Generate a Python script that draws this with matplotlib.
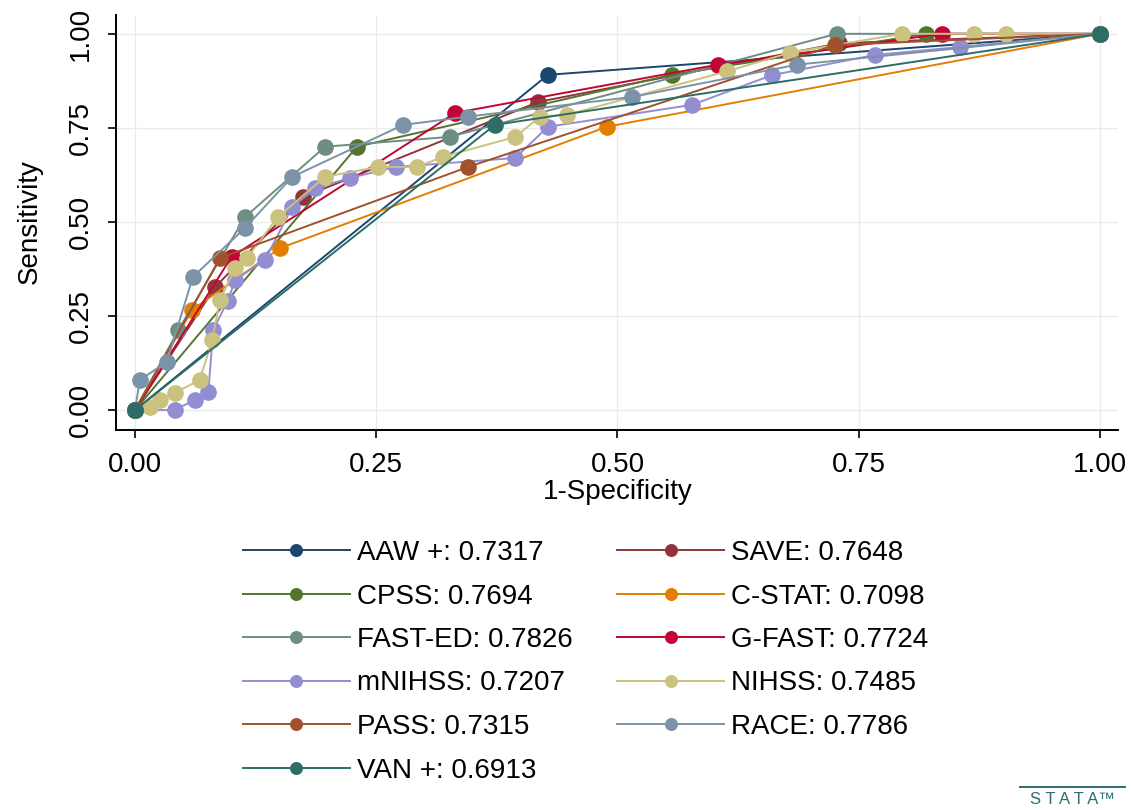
import matplotlib
matplotlib.use("Agg")
import matplotlib.pyplot as plt
from matplotlib.lines import Line2D

plt.rcParams['font.family'] = ['Liberation Sans', 'DejaVu Sans']

names = ["AAW +", "SAVE", "CPSS", "C-STAT", "FAST-ED", "G-FAST",
         "mNIHSS", "NIHSS", "PASS", "RACE", "VAN +"]
aucs = ["0.7317", "0.7648", "0.7694", "0.7098", "0.7826", "0.7724",
        "0.7207", "0.7485", "0.7315", "0.7786", "0.6913"]
colors = ["#1a476f", "#90353b", "#55752f", "#e37e00", "#6e8e84", "#c10534",
          "#938dd2", "#cac27e", "#a0522d", "#7b92a8", "#2d6d66"]

aaw_x = [0, 0.428, 1]
aaw_y = [0, 0.891, 1]
save_x = [0, 0.083, 0.174, 0.418, 0.73, 1]
save_y = [0, 0.327, 0.566, 0.819, 0.975, 1]
cpss_x = [0, 0.23, 0.556, 0.82, 1]
cpss_y = [0, 0.70, 0.891, 1.0, 1]
cstat_x = [0, 0.059, 0.15, 0.489, 1]
cstat_y = [0, 0.266, 0.43, 0.753, 1]
fasted_x = [0, 0.045, 0.114, 0.197, 0.326, 0.727, 1]
fasted_y = [0, 0.213, 0.513, 0.70, 0.726, 1.0, 1]
gfast_x = [0, 0.10, 0.332, 0.604, 0.836, 1]
gfast_y = [0, 0.407, 0.79, 0.918, 1.0, 1]
mnihss_x = [0, 0.041, 0.062, 0.076, 0.081, 0.096, 0.104, 0.135, 0.163, 0.187,
            0.223, 0.27, 0.394, 0.428, 0.577, 0.66, 0.767, 0.855, 1]
mnihss_y = [0, 0.0, 0.027, 0.048, 0.213, 0.29, 0.346, 0.40, 0.54, 0.59,
            0.617, 0.646, 0.67, 0.753, 0.811, 0.89, 0.944, 0.965, 1]
nihss_x = [0, 0.016, 0.026, 0.041, 0.067, 0.08, 0.088, 0.104, 0.116, 0.148,
           0.197, 0.252, 0.292, 0.319, 0.394, 0.42, 0.448, 0.613, 0.679,
           0.795, 0.869, 0.903, 1]
nihss_y = [0, 0.008, 0.027, 0.045, 0.08, 0.186, 0.293, 0.378, 0.404, 0.513,
           0.62, 0.646, 0.646, 0.673, 0.726, 0.78, 0.785, 0.90, 0.95,
           1.0, 1.0, 1.0, 1]
pass_x = [0, 0.088, 0.345, 0.725, 1]
pass_y = [0, 0.404, 0.646, 0.97, 1]
race_x = [0, 0.005, 0.033, 0.06, 0.114, 0.163, 0.278, 0.345, 0.515, 0.686, 1]
race_y = [0, 0.08, 0.128, 0.354, 0.484, 0.62, 0.758, 0.78, 0.832, 0.918, 1]
van_x = [0, 0.373, 1]
van_y = [0, 0.758, 1]

series_x = [aaw_x, save_x, cpss_x, cstat_x, fasted_x, gfast_x,
            mnihss_x, nihss_x, pass_x, race_x, van_x]
series_y = [aaw_y, save_y, cpss_y, cstat_y, fasted_y, gfast_y,
            mnihss_y, nihss_y, pass_y, race_y, van_y]

ticks = [0, 0.25, 0.5, 0.75, 1.0]
tick_labels = ["0.00", "0.25", "0.50", "0.75", "1.00"]

W, H = 1131, 810
fig = plt.figure(figsize=(W / 100, H / 100), dpi=100)
ax = fig.add_axes([116 / W, 1 - 430 / H, (1118 - 116) / W, (430 - 15) / H])

handles = []
for xs, ys, c, n, a in zip(series_x, series_y, colors, names, aucs):
    h, = ax.plot(xs, ys, color=c, lw=1.4, marker='o', markersize=12,
                 markeredgewidth=0, label=f"{n}: {a}")
    handles.append(h)

ax.set_xlim(-0.0197, 1.0187)
ax.set_ylim(-0.053, 1.05)
ax.set_xticks(ticks)
ax.set_xticklabels(tick_labels)
ax.set_yticks(ticks)
ax.set_yticklabels(tick_labels, rotation=90, va='center')
ax.grid(True, color='#ebebeb', lw=1.0)
ax.set_axisbelow(True)
for s in ['top', 'right']:
    ax.spines[s].set_visible(False)
for s in ['left', 'bottom']:
    ax.spines[s].set_linewidth(1.4)
ax.tick_params(axis='both', length=6, width=1.2, labelsize=20, pad=10,
               colors='black')

fig.text(618 / W, 1 - 492 / H, "1-Specificity", ha='center', va='center',
         fontsize=20)
fig.text(30 / W, 1 - 222 / H, "Sensitivity", ha='center', va='center',
         fontsize=20, rotation=90)

order = [0, 2, 4, 6, 8, 10, 1, 3, 5, 7, 9]
leg = fig.legend([handles[i] for i in order], [handles[i].get_label() for i in order],
                 ncol=2, loc='upper left', bbox_to_anchor=(243 / W, 1 - 540 / H),
                 frameon=False, fontsize=20, handlelength=3.85, handletextpad=0.25,
                 columnspacing=1.6, labelspacing=0.63, markerscale=0.78,
                 borderpad=0, borderaxespad=0)

fig.add_artist(Line2D([1020 / W, 1125 / W], [1 - 787 / H, 1 - 787 / H],
                      color='#2f6b73', lw=1.4))
fig.text(1072 / W, 1 - 800 / H, "S T A T A™", ha='center', va='center',
         fontsize=12, color='#2f6b73')

fig.savefig("out.png", dpi=100, facecolor='white')
